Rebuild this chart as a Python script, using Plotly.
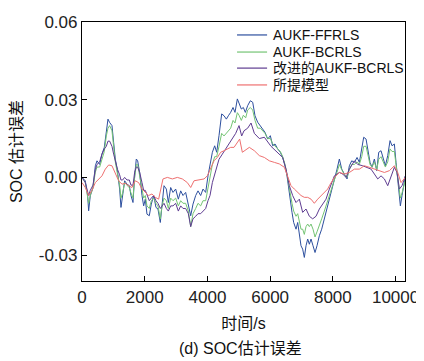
import plotly.graph_objects as go

# ---- data ----
t_ffrls = [0,105,180,212,265,350,425,478,563,637,711,775,828,881,956,1009,1062,1136,1200,1243,
           1296,1360,1434,1509,1562,1626,1679,1732,1775,1838,1913,1966,2019,2072,2146,2210,2285,2359,2423,2497,
           2550,2615,2690,2753,2828,2902,2987,3072,3147,3221,3306,3391,3466,3540,3625,3699,3784,3859,3944,4018,
           4082,4157,4231,4295,4369,4454,4529,4603,4667,4741,4816,4879,4954,5007,5081,5145,5209,5283,5368,5443,
           5517,5602,5687,5762,5836,5921,6006,6081,6155,6240,6325,6399,6474,6538,6591,6644,6697,6750,6825,6878,
           6931,6984,7037,7090,7144,7197,7250,7303,7367,7431,7494,7569,7643,7728,7814,7888,7963,8048,8133,8207,
           8282,8367,8452,8526,8601,8686,8771,8845,8920,8983,9058,9111,9185,9249,9324,9398,9462,9536,9611,9674,
           9749,9823,9887,9961,10014,10088,10152,10205,10280,10312]
v_ffrls = [0.0,-0.0013,-0.007,-0.0129,-0.007,-0.004,0.0045,0.0064,0.005,0.009,0.0116,0.0187,0.0225,0.0212,0.020,0.0135,0.0071,0.0019,-0.0045,-0.0116,
           -0.007,-0.0013,-0.0026,-0.0032,-0.007,-0.0097,0.0006,0.0071,0.0064,0.0019,-0.007,-0.011,-0.0084,-0.0142,-0.0148,-0.0103,-0.007,-0.0116,-0.0122,-0.0174,
           -0.011,-0.0032,-0.0045,-0.0097,-0.0039,-0.0058,-0.0045,-0.0084,-0.0052,-0.007,-0.0058,-0.0103,-0.0148,-0.0103,-0.007,-0.0052,-0.007,-0.0045,-0.0058,0.0006,
           0.0045,0.0097,0.0122,0.0097,0.0161,0.0245,0.0238,0.0225,0.0238,0.0251,0.027,0.0251,0.0303,0.0283,0.0264,0.027,0.0251,0.0277,0.0296,0.029,
           0.0238,0.0213,0.020,0.0187,0.0174,0.0148,0.0161,0.0122,0.0129,0.011,0.0097,0.0077,0.0045,0.0006,-0.0045,-0.0097,-0.0135,-0.0174,-0.020,-0.0174,
           -0.0225,-0.0264,-0.0277,-0.0309,-0.0264,-0.0238,-0.0258,-0.0238,-0.0264,-0.029,-0.0264,-0.0225,-0.020,-0.0161,-0.0122,-0.0085,-0.0045,-0.0006,0.0032,0.0071,
           0.0032,0.0013,-0.0006,0.0045,0.0064,0.0058,0.0077,0.0058,0.011,0.0155,0.0148,0.011,0.0058,0.0039,0.0071,0.0026,0.0097,0.0103,0.0071,0.0045,
           0.0084,0.0142,0.0122,0.0129,0.0058,-0.0045,-0.011,-0.007,-0.0013,0.0006]

t_bcrls = [0,105,212,265,350,425,478,563,637,711,775,828,881,956,1009,1062,1136,1200,1243,1296,
           1360,1434,1509,1562,1626,1679,1732,1775,1838,1913,1966,2019,2072,2146,2210,2285,2359,2423,2497,2550,
           2615,2690,2753,2828,2902,2987,3072,3147,3221,3306,3391,3466,3540,3625,3699,3784,3859,3944,4018,4082,
           4157,4231,4295,4369,4454,4529,4603,4667,4741,4816,4879,4954,5007,5081,5145,5220,5283,5368,5443,5517,
           5602,5687,5762,5836,5921,6006,6081,6155,6240,6325,6399,6474,6538,6591,6644,6697,6750,6825,6878,6931,
           6984,7037,7090,7144,7197,7250,7303,7367,7431,7494,7569,7643,7728,7814,7888,7963,8048,8133,8207,8282,
           8367,8452,8526,8601,8686,8771,8845,8920,8983,9058,9111,9185,9249,9324,9398,9462,9536,9611,9674,9749,
           9823,9887,9961,10014,10088,10152,10205,10280,10312]
v_bcrls = [0.0,-0.002,-0.010,-0.007,-0.004,0.002,0.004,0.004,0.007,0.010,0.016,0.019,0.020,0.018,0.012,0.006,0.001,-0.003,-0.008,-0.006,
           -0.002,-0.003,-0.004,-0.006,-0.008,0.000,0.005,0.005,0.001,-0.005,-0.008,-0.007,-0.011,-0.012,-0.009,-0.008,-0.010,-0.011,-0.016,-0.011,
           -0.008,-0.009,-0.012,-0.008,-0.009,-0.008,-0.011,-0.009,-0.010,-0.010,-0.013,-0.019,-0.014,-0.012,-0.010,-0.011,-0.009,-0.009,-0.004,0.000,
           0.005,0.008,0.008,0.012,0.017,0.016,0.017,0.018,0.019,0.022,0.021,0.025,0.024,0.022,0.024,0.023,0.026,0.027,0.026,0.022,
           0.019,0.019,0.018,0.017,0.015,0.015,0.013,0.012,0.011,0.010,0.008,0.005,0.001,-0.003,-0.007,-0.010,-0.013,-0.015,-0.014,-0.017,
           -0.020,-0.020,-0.022,-0.019,-0.018,-0.019,-0.018,-0.020,-0.023,-0.021,-0.018,-0.016,-0.013,-0.010,-0.007,-0.004,-0.001,0.002,0.005,0.003,
           0.001,0.000,0.003,0.005,0.005,0.006,0.005,0.008,0.012,0.012,0.009,0.005,0.004,0.006,0.003,0.007,0.008,0.006,0.004,0.006,
           0.011,0.010,0.010,0.005,-0.003,-0.008,-0.006,-0.002,-0.001]

t_improved = [0,105,212,265,350,425,478,563,637,711,775,828,881,956,1009,1062,1136,1200,1243,1296,
              1360,1434,1509,1562,1626,1679,1732,1775,1838,1913,1966,2019,2072,2146,2210,2285,2359,2423,2497,2550,
              2615,2690,2753,2828,2902,2987,3072,3147,3221,3306,3391,3466,3540,3625,3699,3784,3859,3944,4018,4082,
              4157,4263,4369,4476,4582,4688,4794,4901,5007,5092,5166,5283,5390,5496,5655,5815,6027,6240,6399,6506,
              6612,6718,6825,6931,7037,7144,7250,7356,7463,7569,7675,7781,7888,8048,8207,8314,8420,8526,8686,8792,
              8951,9058,9217,9324,9430,9536,9643,9749,9855,9961,10046,10121,10205,10312]
v_improved = [0.0,-0.002,-0.007,-0.005,-0.003,0.003,0.005,0.006,0.009,0.011,0.012,0.014,0.014,0.012,0.009,0.006,0.003,0.001,-0.001,-0.001,
              0.000,-0.001,-0.001,-0.003,-0.003,0.002,0.004,0.004,0.002,-0.002,-0.005,-0.005,-0.007,-0.009,-0.008,-0.007,-0.009,-0.010,-0.012,-0.011,
              -0.010,-0.012,-0.013,-0.011,-0.011,-0.010,-0.013,-0.011,-0.012,-0.012,-0.014,-0.019,-0.016,-0.015,-0.014,-0.014,-0.013,-0.012,-0.009,-0.007,
              -0.002,0.003,0.007,0.009,0.011,0.013,0.015,0.017,0.020,0.016,0.018,0.019,0.021,0.017,0.015,0.0155,0.012,0.0097,0.0077,0.0032,
              -0.0032,-0.007,-0.0097,-0.0084,-0.0135,-0.0122,-0.015,-0.016,-0.015,-0.0122,-0.0103,-0.0084,-0.0045,0.0006,0.0019,0.0013,0.0,0.0032,0.0064,0.005,
              0.0045,0.0039,0.0032,0.0013,-0.0006,0.0006,-0.0006,-0.0032,0.0006,0.0039,0.0019,-0.0045,-0.0032,0.0006]

t_proposed = [0,105,212,318,425,531,637,743,850,956,1062,1168,1275,1381,1488,1594,1700,1806,1913,2019,
              2125,2232,2338,2444,2519,2582,2722,2881,3040,3200,3359,3466,3572,3731,3891,3997,4104,4210,4316,4422,
              4529,4635,4741,4848,4954,5028,5113,5198,5336,5496,5655,5815,5974,6134,6293,6453,6559,6665,6771,6878,
              6984,7090,7197,7303,7409,7516,7622,7728,7834,7888,8048,8207,8367,8526,8686,8845,9005,9164,9324,9483,
              9643,9802,9961,10067,10173,10312]
v_proposed = [-0.002,-0.0039,-0.007,-0.005,-0.002,-0.0006,0.0006,0.0032,0.0048,0.0045,0.0019,-0.0013,-0.0026,-0.0023,-0.0032,-0.0039,-0.0013,-0.002,-0.0045,-0.0058,
              -0.007,-0.0064,-0.0077,-0.0084,-0.0045,-0.0006,0.0,-0.0006,0.0,-0.0006,-0.002,-0.0039,-0.0013,-0.0009,-0.0006,0.0006,0.0039,0.0064,0.0077,0.0097,
              0.0103,0.011,0.0116,0.0116,0.0135,0.0148,0.0097,0.0103,0.0116,0.0103,0.0084,0.0077,0.0064,0.0058,0.0052,0.0039,0.0006,-0.0032,-0.0045,-0.0058,
              -0.007,-0.0077,-0.0077,-0.0084,-0.010,-0.0084,-0.007,-0.0058,-0.0045,-0.0032,0.0,0.0019,0.0013,0.0019,0.0032,0.0032,0.0045,0.0039,0.0032,0.0026,
              0.0019,0.0026,0.0045,0.0019,-0.002,0.0]

series_names = ["AUKF-FFRLS", "AUKF-BCRLS", "改进的AUKF-BCRLS", "所提模型"]
x_ticks = [0, 2000, 4000, 6000, 8000, 10000]
x_ticktext = ["0", "2000", "4000", "6000", "8000", "10000"]
y_ticks = [-0.03, 0.0, 0.03, 0.06]
y_ticktext = ["-0.03", "0.00", "0.03", "0.06"]

# ---- figure ----
colors = ["#2d4f9e", "#74c474", "#5e3c91", "#ee7070"]
series = [(t_ffrls, v_ffrls), (t_bcrls, v_bcrls), (t_improved, v_improved), (t_proposed, v_proposed)]

FONT = "Liberation Sans, Arial, Noto Sans CJK SC, sans-serif"
fig = go.Figure()
for (tx, vy), name, c in zip(series, series_names, colors):
    fig.add_trace(go.Scatter(x=tx, y=vy, mode="lines", name=name,
                             line=dict(color=c, width=1), showlegend=False))

# legend drawn as line samples + text (tight row spacing like the reference)
leg_rows = [0.950, 0.884, 0.822, 0.757]
for name, c, yy in zip(series_names, colors, leg_rows):
    fig.add_shape(type="line", xref="paper", yref="paper", x0=0.480, x1=0.573,
                  y0=yy, y1=yy, line=dict(color=c, width=1.2))
    fig.add_annotation(text=name, xref="paper", yref="paper", x=0.586, y=yy,
                       xanchor="left", yanchor="middle", showarrow=False,
                       font=dict(size=14, color="#111"))

fig.update_layout(
    width=416, height=353,
    margin=dict(l=74, r=19, t=14, b=80),
    paper_bgcolor="white", plot_bgcolor="white",
    font=dict(family=FONT, color="#222", size=17),
    showlegend=False,
)
fig.update_xaxes(range=[0, 10300], tickvals=x_ticks, ticktext=x_ticktext, ticks="inside", ticklen=5,
                 tickcolor="black", showline=True, linecolor="black", linewidth=1.2,
                 mirror=True, showgrid=False, zeroline=False, automargin=False,
                 tickfont=dict(size=17, color="#222"),
                 title=dict(text="时间/s", font=dict(size=16, color="#111"), standoff=12))
fig.update_yaxes(range=[-0.04, 0.06], tickvals=y_ticks, ticktext=y_ticktext,
                 ticks="inside", ticklen=5, tickcolor="black", showline=True,
                 linecolor="black", linewidth=1.2, mirror=True, showgrid=False,
                 zeroline=False, automargin=False, tickfont=dict(size=17, color="#222"),
                 title=dict(text="SOC 估计误差", font=dict(size=16, color="#111"), standoff=14))
fig.add_annotation(text="(d) SOC估计误差", xref="paper", yref="paper",
                   x=0.49, y=-0.259, yanchor="middle", xanchor="center", showarrow=False,
                   font=dict(size=16, color="#111"))

fig.write_html("out.html")
